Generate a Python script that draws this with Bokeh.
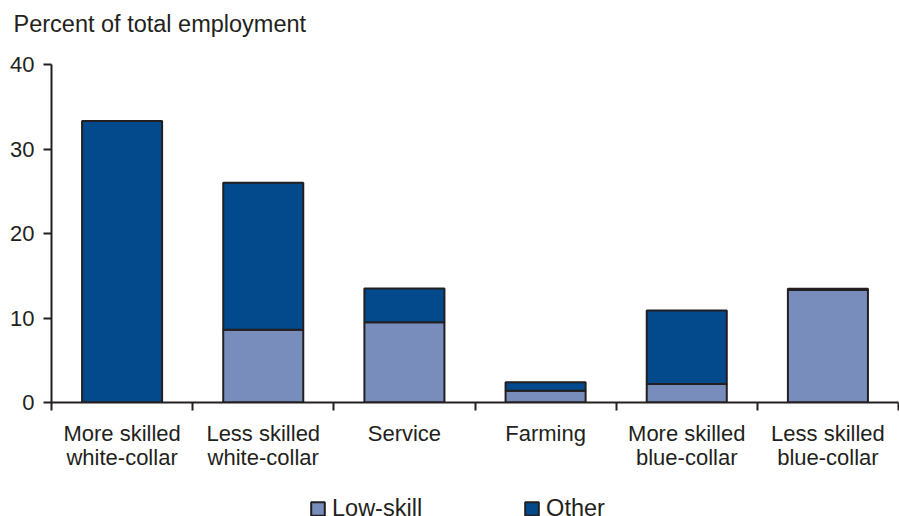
from bokeh.plotting import figure
from bokeh.models import (Range1d, FixedTicker, ColumnDataSource, Legend, LegendItem, Title,
                          LinearAxis)
from bokeh.layouts import column
from bokeh.embed import file_html
from bokeh.resources import INLINE

cat_line1 = ["More skilled", "Less skilled", "Service", "Farming", "More skilled", "Less skilled"]
cat_line2 = ["white-collar", "white-collar", "", "", "blue-collar", "blue-collar"]
low_skill = [0.0, 8.6, 9.5, 1.4, 2.2, 13.3]
other = [33.3, 17.4, 4.0, 1.0, 8.7, 0.15]
series = ["Low-skill", "Other"]
colors = ["#798dbd", "#024a8c"]
y_ticks = [0, 10, 20, 30, 40]

FONT = "Liberation Sans"
TEXT = "#231f20"

n = len(cat_line1)
xs = [i + 0.5 for i in range(n)]
source = ColumnDataSource(dict(x=xs, low=low_skill, other=other))

p = figure(width=899, height=478, output_backend="svg", toolbar_location=None, title=None,
           x_range=Range1d(0, n), y_range=Range1d(0, 40),
           min_border_left=51, min_border_right=1, min_border_top=64, min_border_bottom=76)

rs = p.vbar_stack(["low", "other"], x="x", width=0.567, source=source,
                  fill_color=colors, line_color=TEXT, line_width=2)

# spacer (closest to the frame), then the real title above it
p.add_layout(Title(text=" ", text_font_size="1px", standoff=25), "above")
p.add_layout(Title(text="Percent of total employment", align="left", offset=-38,
                   text_font=FONT, text_font_size="23.5px", text_font_style="normal",
                   text_color=TEXT, standoff=0), "above")

p.grid.visible = False
p.outline_line_color = None
p.background_fill_color = "white"
p.border_fill_color = "white"

xa = p.xaxis[0]
xa.ticker = FixedTicker(ticks=xs, minor_ticks=list(range(n + 1)))
xa.major_label_overrides = {x: c for x, c in zip(xs, cat_line1)}
xa.major_tick_out = 0
xa.major_tick_in = 0
xa.minor_tick_out = 8
xa.minor_tick_in = 0
xa.minor_tick_line_color = TEXT
xa.minor_tick_line_width = 2
xa.axis_line_color = TEXT
xa.axis_line_width = 2
xa.major_label_text_font = FONT
xa.major_label_text_font_size = "22px"
xa.major_label_text_color = TEXT
xa.major_label_standoff = 10

xa2 = LinearAxis(ticker=FixedTicker(ticks=xs),
                 major_label_overrides={x: c for x, c in zip(xs, cat_line2)},
                 major_tick_out=0, major_tick_in=0, minor_tick_out=0, minor_tick_in=0,
                 axis_line_color=None, major_tick_line_color=None, minor_tick_line_color=None,
                 major_label_text_font=FONT, major_label_text_font_size="22px",
                 major_label_text_color=TEXT, major_label_standoff=-4)
p.add_layout(xa2, "below")

ya = p.yaxis[0]
ya.ticker = FixedTicker(ticks=y_ticks)
ya.major_tick_out = 8
ya.major_tick_in = 0
ya.minor_tick_out = 0
ya.minor_tick_in = 0
ya.major_tick_line_color = TEXT
ya.major_tick_line_width = 2
ya.axis_line_color = TEXT
ya.axis_line_width = 2
ya.major_label_text_font = FONT
ya.major_label_text_font_size = "22px"
ya.major_label_text_color = TEXT
ya.major_label_standoff = 9

# legend panel (separate small figure under the chart); its proxy glyphs
# reuse the chart data but lie entirely outside this panel's visible y range
lg = figure(width=899, height=38, output_backend="svg", toolbar_location=None,
            x_range=Range1d(0, n), y_range=Range1d(-200, -100),
            min_border_left=0, min_border_right=0, min_border_top=0, min_border_bottom=0)
lg.axis.visible = False
lg.grid.visible = False
lg.outline_line_color = None
lr = [lg.rect(x="x", y=col, width=0.5, height=1, source=source, fill_color=c,
              line_color=TEXT, line_width=2) for col, c in zip(["low", "other"], colors)]
legend = Legend(items=[LegendItem(label=s, renderers=[r]) for s, r in zip(series, lr)],
                orientation="horizontal", location=(258, -6),
                label_text_font=FONT, label_text_font_size="23.5px", label_text_color=TEXT,
                glyph_width=17, glyph_height=17, label_standoff=6, spacing=101,
                padding=0, margin=0, border_line_color=None, background_fill_alpha=0)
lg.add_layout(legend, "center")

layout = column(p, lg, spacing=0)
open("out.html", "w").write(file_html(layout, INLINE))
